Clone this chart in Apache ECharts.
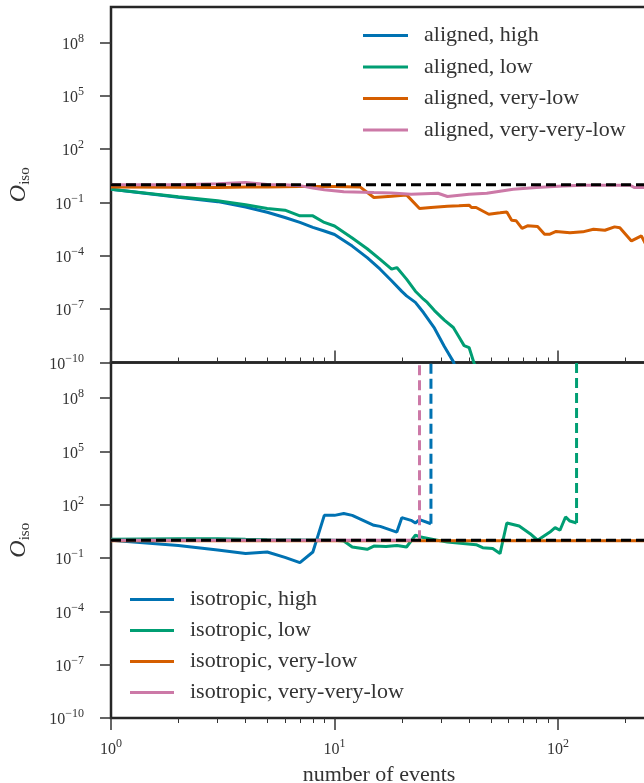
<!DOCTYPE html>
<html>
<head>
<meta charset="utf-8">
<script src="https://cdn.jsdelivr.net/npm/echarts@6/dist/echarts.min.js"></script>
<style>
  html, body { margin: 0; padding: 0; background: #fff; }
  #main { width: 644px; height: 783px; }
</style>
</head>
<body>
<div id="main"></div>
<script>
// values as log10 of O_iso (the axis is logarithmic)
var nAlignedHigh = [1, 2, 3, 4, 5, 6, 7, 8, 9, 10, 12, 14, 16, 18, 20, 21, 23, 25, 28, 31, 34, 35];
var logAlignedHigh = [-0.25, -0.7, -0.95, -1.25, -1.55, -1.84, -2.12, -2.4, -2.6, -2.8, -3.45, -4.1, -4.75, -5.4, -6.0, -6.25, -6.62, -7.19, -8.07, -9.1, -9.95, -10.4];

var nAlignedLow = [1, 2, 3, 4, 5, 6, 7, 8, 9, 10, 12, 14, 16, 18, 19, 21, 23, 25, 26, 28, 31, 34, 36, 38, 40, 42, 44];
var logAlignedLow = [-0.25, -0.68, -0.9, -1.13, -1.34, -1.43, -1.75, -1.75, -2.12, -2.32, -3.0, -3.6, -4.2, -4.75, -4.66, -5.31, -5.99, -6.44, -6.62, -7.08, -7.62, -8.03, -8.55, -9.05, -9.16, -10.0, -10.6];

var nAlignedVeryLow = [1, 2, 3, 4, 5, 7, 10, 13, 15, 18, 21, 24, 27, 32, 36, 40, 41, 43, 49, 55, 59, 62, 65, 69, 73, 81, 87, 92, 98, 113, 129, 144, 162, 179, 189, 213, 236, 250];
var logAlignedVeryLow = [-0.12, -0.14, -0.15, -0.13, -0.12, -0.1, -0.1, -0.12, -0.72, -0.65, -0.57, -1.34, -1.28, -1.21, -1.18, -1.15, -1.28, -1.28, -1.66, -1.58, -1.53, -2.0, -2.03, -2.45, -2.31, -2.35, -2.78, -2.78, -2.63, -2.7, -2.65, -2.5, -2.56, -2.37, -2.42, -3.16, -2.88, -3.5];

var nAlignedVeryVeryLow = [1, 2, 3, 4, 5, 6, 7, 8, 9, 11, 15, 18, 22, 29, 32, 40, 48, 63, 80, 105, 130, 210, 220, 250];
var logAlignedVeryVeryLow = [0, 0, 0.05, 0.12, 0.02, 0, -0.05, -0.18, -0.28, -0.4, -0.44, -0.46, -0.53, -0.48, -0.66, -0.53, -0.48, -0.25, -0.15, -0.07, -0.03, -0.03, -0.16, -0.16];

var nIsoHigh = [1, 2, 3, 4, 5, 6, 7, 8, 9, 10, 11, 12, 15, 16, 19, 20, 22, 23, 24, 27];
var logIsoHigh = [0, -0.29, -0.55, -0.75, -0.66, -0.96, -1.26, -0.66, 1.4, 1.4, 1.5, 1.4, 0.84, 0.78, 0.46, 1.27, 1.12, 0.97, 1.16, 0.93];

var nIsoLow = [1, 2, 3, 4, 5, 7, 10, 11, 12, 14, 15, 17, 19, 21, 23, 24, 28, 32, 43, 46, 51, 55, 59, 67, 75, 81, 92, 97, 102, 108, 113, 121];
var logIsoLow = [0.05, 0.08, 0.08, 0.05, 0.03, 0.02, 0, -0.04, -0.38, -0.51, -0.33, -0.35, -0.29, -0.38, 0.28, 0.2, 0.03, -0.1, -0.25, -0.42, -0.47, -0.75, 0.97, 0.8, 0.37, 0, 0.46, 0.71, 0.56, 1.31, 1.08, 0.97];

var nIsoVeryLow = [1, 10, 50, 100, 250];
var logIsoVeryLow = [-0.03, -0.03, -0.03, -0.03, -0.03];

var nIsoVeryVeryLow = [1, 5, 10, 15, 20, 24];
var logIsoVeryVeryLow = [0, 0, 0, 0, 0, 0];

// events at which the isotropic runs blow up (dashed verticals)
var divergeN = { high: 27, low: 121, veryVeryLow: 24 };

var refLevel = 1;
var xMin = 1, xMax = 250;
var yTicks = [1e-10, 1e-7, 1e-4, 1e-1, 1e2, 1e5, 1e8];
var xMajor = [1, 10, 100];
var xMinor = [2, 3, 4, 5, 6, 7, 8, 9, 20, 30, 40, 50, 60, 70, 80, 90, 200];

var alignedNames = ["aligned, high", "aligned, low", "aligned, very-low", "aligned, very-very-low"];
var isoNames = ["isotropic, high", "isotropic, low", "isotropic, very-low", "isotropic, very-very-low"];
var colors = ["#0072B2", "#009E73", "#D55E00", "#CC79A7"];

var FONT = "Liberation Serif";
var INK = "#333";

var pairs = (ns, logs) => ns.map((n, i) => [n, Math.pow(10, logs[i])]);

var powLabel = function (v) {
  var e = Math.round(Math.log10(v));
  var s = e < 0 ? "\u2212" + (-e) : "" + e;
  return "{b|10}{s|" + s + "}";
};

var labelRich = {
  b: { fontFamily: FONT, fontSize: 16, color: INK, lineHeight: 20, verticalAlign: "bottom" },
  s: { fontFamily: FONT, fontSize: 12, color: INK, lineHeight: 12, verticalAlign: "top" },
};

var lineSeries = (name, data, color, xi, yi) => ({
  name: name,
  type: "line",
  xAxisIndex: xi,
  yAxisIndex: yi,
  data: data,
  showSymbol: false,
  symbol: "none",
  clip: true,
  lineStyle: { color: color, width: 3 },
  itemStyle: { color: color },
});

var dashedSeries = (data, color, xi, yi) => ({
  type: "line",
  xAxisIndex: xi,
  yAxisIndex: yi,
  data: data,
  showSymbol: false,
  symbol: "none",
  clip: true,
  silent: true,
  lineStyle: { color: color, width: 3, type: [10, 5] },
  z: 5,
});

var divergeLine = (n, logs) => [[n, Math.pow(10, logs[logs.length - 1])], [n, 1e14]];

var xAxisPair = (grid, inside, showLabel) => [
  {
    gridIndex: grid,
    type: "log",
    logBase: 10,
    min: xMin,
    max: xMax,
    position: "bottom",
    axisLine: { show: false },
    splitLine: { show: false },
    axisTick: { show: true, inside: inside, length: 12, customValues: xMajor, lineStyle: { color: INK, width: 1.5 } },
    axisLabel: showLabel
      ? { show: true, customValues: xMajor, formatter: powLabel, rich: labelRich, margin: 20 }
      : { show: false },
    name: showLabel ? "number of events" : "",
    nameLocation: "middle",
    nameGap: 46,
    nameTextStyle: { fontFamily: FONT, fontSize: 22, color: INK },
  },
  {
    gridIndex: grid,
    type: "log",
    logBase: 10,
    min: xMin,
    max: xMax,
    position: "bottom",
    axisLine: { show: false },
    splitLine: { show: false },
    axisTick: { show: true, inside: inside, length: 5, customValues: xMinor, lineStyle: { color: INK, width: 1 } },
    axisLabel: { show: false },
  },
];

var yAxisFor = (grid) => ({
  gridIndex: grid,
  type: "log",
  logBase: 10,
  min: 1e-10,
  max: 1e10,
  axisLine: { show: false },
  splitLine: { show: false },
  axisTick: { show: true, inside: false, length: 11, customValues: yTicks, lineStyle: { color: INK, width: 1.5 } },
  axisLabel: { show: true, customValues: yTicks, formatter: powLabel, rich: labelRich, margin: 27 },
  name: "{o|O}{i|iso}",
  nameLocation: "middle",
  nameGap: 78,
  nameRotate: 90,
  nameTextStyle: {
    rich: {
      o: { fontFamily: FONT, fontStyle: "italic", fontSize: 24, color: INK, lineHeight: 26, verticalAlign: "top" },
      i: { fontFamily: FONT, fontSize: 15, color: INK, lineHeight: 26, verticalAlign: "bottom" },
    },
  },
});

var legendFor = (names, left, top, width, gap) => ({
  data: names,
  orient: "vertical",
  left: left,
  top: top,
  padding: 0,
  icon: "rect",
  itemWidth: width,
  itemHeight: 3,
  itemGap: gap,
  selectedMode: false,
  textStyle: { fontFamily: FONT, fontSize: 22, color: INK, lineHeight: 21, padding: [0, 0, 0, 11] },
});

var chart = echarts.init(document.getElementById("main"), null, { renderer: "canvas" });

var option = {
  animation: false,
  backgroundColor: "#fff",
  grid: [
    { left: 111, top: 7, right: -3, height: 355.5, show: true, borderColor: "#262626", borderWidth: 2.5, outerBoundsMode: "none", containLabel: false },
    { left: 111, top: 362.5, right: -3, height: 355.5, show: true, borderColor: "#262626", borderWidth: 2.5, outerBoundsMode: "none", containLabel: false },
  ],
  xAxis: xAxisPair(0, true, false).concat(xAxisPair(1, false, true)),
  yAxis: [yAxisFor(0), yAxisFor(1)],
  legend: [
    legendFor(alignedNames, 363, 24.5, 45, 9.5),
    legendFor(isoNames, 130, 588.5, 44, 9),
  ],
  series: [
    lineSeries(alignedNames[0], pairs(nAlignedHigh, logAlignedHigh), colors[0], 0, 0),
    lineSeries(alignedNames[1], pairs(nAlignedLow, logAlignedLow), colors[1], 0, 0),
    lineSeries(alignedNames[2], pairs(nAlignedVeryLow, logAlignedVeryLow), colors[2], 0, 0),
    lineSeries(alignedNames[3], pairs(nAlignedVeryVeryLow, logAlignedVeryVeryLow), colors[3], 0, 0),
    dashedSeries([[xMin, refLevel], [xMax, refLevel]], "#000", 0, 0),

    lineSeries(isoNames[0], pairs(nIsoHigh, logIsoHigh), colors[0], 2, 1),
    lineSeries(isoNames[1], pairs(nIsoLow, logIsoLow), colors[1], 2, 1),
    lineSeries(isoNames[2], pairs(nIsoVeryLow, logIsoVeryLow), colors[2], 2, 1),
    lineSeries(isoNames[3], pairs(nIsoVeryVeryLow, logIsoVeryVeryLow), colors[3], 2, 1),
    dashedSeries(divergeLine(divergeN.high, logIsoHigh), colors[0], 2, 1),
    dashedSeries(divergeLine(divergeN.low, logIsoLow), colors[1], 2, 1),
    dashedSeries(divergeLine(divergeN.veryVeryLow, logIsoVeryVeryLow), colors[3], 2, 1),
    dashedSeries([[xMin, refLevel], [xMax, refLevel]], "#000", 2, 1),
  ],
};

chart.setOption(option);
</script>
</body>
</html>
